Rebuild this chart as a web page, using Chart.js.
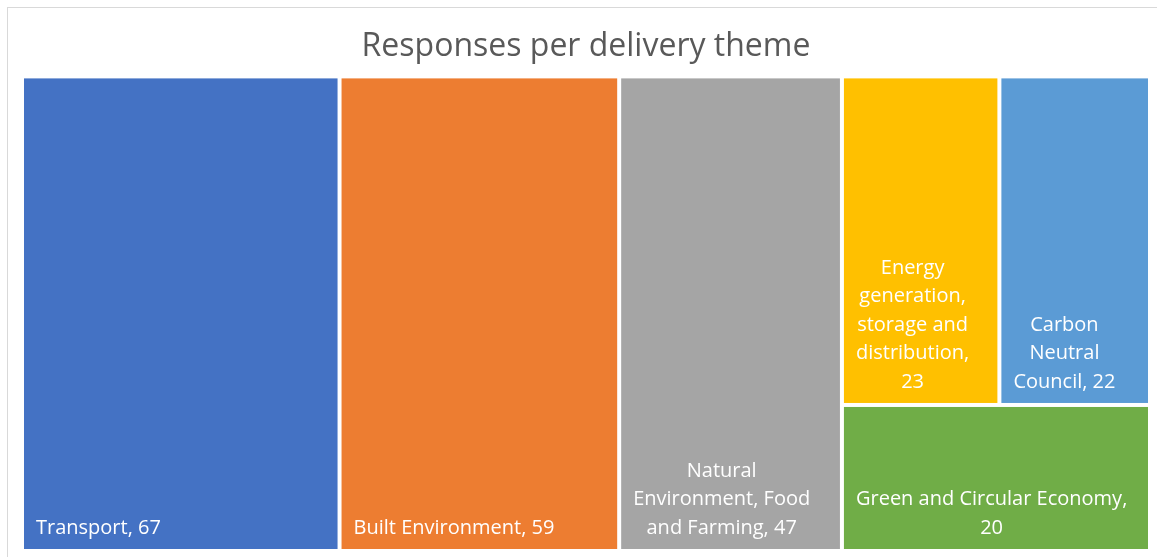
<!DOCTYPE html>
<html>
<head>
<meta charset="utf-8">
<script src="https://cdn.jsdelivr.net/npm/chart.js@4.4.0/dist/chart.umd.min.js"></script>
<style>
  html, body { margin: 0; padding: 0; background: #fff; }
  #caixa { position: relative; width: 1157px; height: 557px; }
  canvas { display: block; }
</style>
</head>
<body>
<div id="caixa"><canvas id="grafico"></canvas></div>
<script>
// Dados do treemap
const temas = [
  "Transport",
  "Built Environment",
  "Natural Environment, Food and Farming",
  "Energy generation, storage and distribution",
  "Carbon Neutral Council",
  "Green and Circular Economy",
];
const respostas = [67, 59, 47, 23, 22, 20];
const cores = ["#4472C4", "#ED7D31", "#A5A5A5", "#FFC000", "#5B9BD5", "#70AD47"];

const total = respostas.reduce((s, v) => s + v, 0);
const FONTE_ROTULO = "20px 'Open Sans'";

/** Divide o espaço (x: 0..total, y: 0..1) em blocos, como o treemap do Excel */
function montarBlocos() {
  const blocos = [];
  let x = 0;
  // as três maiores ocupam colunas inteiras
  for (let i = 0; i < 3; i++) {
    blocos.push({ i, x0: x, x1: x + respostas[i], y0: 0, y1: 1 });
    x += respostas[i];
  }
  // o resto vai na última coluna: duas em cima, uma embaixo
  const somaResto = respostas[3] + respostas[4] + respostas[5];
  const corte = respostas[5] / somaResto;
  const meio = x + somaResto * respostas[3] / (respostas[3] + respostas[4]);
  blocos.push({ i: 3, x0: x, x1: meio, y0: corte, y1: 1 });
  blocos.push({ i: 4, x0: meio, x1: total, y0: corte, y1: 1 });
  blocos.push({ i: 5, x0: x, x1: total, y0: 0, y1: corte });
  return blocos;
}

/** Quebra o texto em linhas que cabem na largura */
function quebrarTexto(ctx, texto, largura) {
  const palavras = texto.split(" ");
  const linhas = [];
  let atual = "";
  palavras.forEach((p) => {
    const teste = atual ? atual + " " + p : p;
    if (atual && ctx.measureText(teste).width > largura) {
      linhas.push(atual);
      atual = p;
    } else {
      atual = teste;
    }
  });
  if (atual) linhas.push(atual);
  return linhas;
}

const pluginTreemap = {
  id: "treemap",
  beforeDraw(chart) {
    const ctx = chart.ctx;
    ctx.save();
    ctx.strokeStyle = "#d9d9d9";
    ctx.lineWidth = 1;
    ctx.strokeRect(7.5, 7.5, 1200, 600);
    ctx.restore();
  },
  afterDatasetsDraw(chart) {
    const { ctx, scales } = chart;
    const sx = scales.x, sy = scales.y;
    ctx.save();
    montarBlocos().forEach((b) => {
      const px0 = sx.getPixelForValue(b.x0) + 2;
      const px1 = sx.getPixelForValue(b.x1) - 2;
      const py0 = sy.getPixelForValue(b.y1) + 2;
      const py1 = sy.getPixelForValue(b.y0) - 2;
      ctx.fillStyle = cores[b.i];
      ctx.fillRect(px0, py0, px1 - px0, py1 - py0);

      // rótulo: "nome, valor", alinhado embaixo
      ctx.font = FONTE_ROTULO;
      ctx.fillStyle = "#ffffff";
      ctx.textBaseline = "middle";
      ctx.textAlign = "center";
      const pad = 12;
      const linhas = quebrarTexto(ctx, `${temas[b.i]}, ${respostas[b.i]}`, px1 - px0 - 2 * pad);
      const larguraBloco = Math.max(...linhas.map((l) => ctx.measureText(l).width));
      const cx = px0 + pad + larguraBloco / 2;
      linhas.forEach((l, k) => {
        const y = py1 - 21 - (linhas.length - 1 - k) * 28.5;
        ctx.fillText(l, cx, y);
      });
    });
    ctx.restore();
  },
};

new Chart(document.getElementById("grafico"), {
  type: "scatter",
  data: { datasets: [{ data: [] }] },
  options: {
    responsive: true,
    maintainAspectRatio: false,
    animation: false,
    layout: { padding: { left: 22, right: 7, top: 0, bottom: 6 } },
    scales: {
      x: { type: "linear", min: 0, max: total, display: false },
      y: { type: "linear", min: 0, max: 1, display: false },
    },
    plugins: {
      legend: { display: false },
      tooltip: { enabled: false },
      title: {
        display: true,
        text: "Responses per delivery theme",
        color: "#595959",
        font: { family: "'Open Sans'", size: 32, weight: "normal" },
        padding: { top: 28, bottom: 10 },
      },
    },
  },
  plugins: [pluginTreemap],
});
</script>
</body>
</html>
